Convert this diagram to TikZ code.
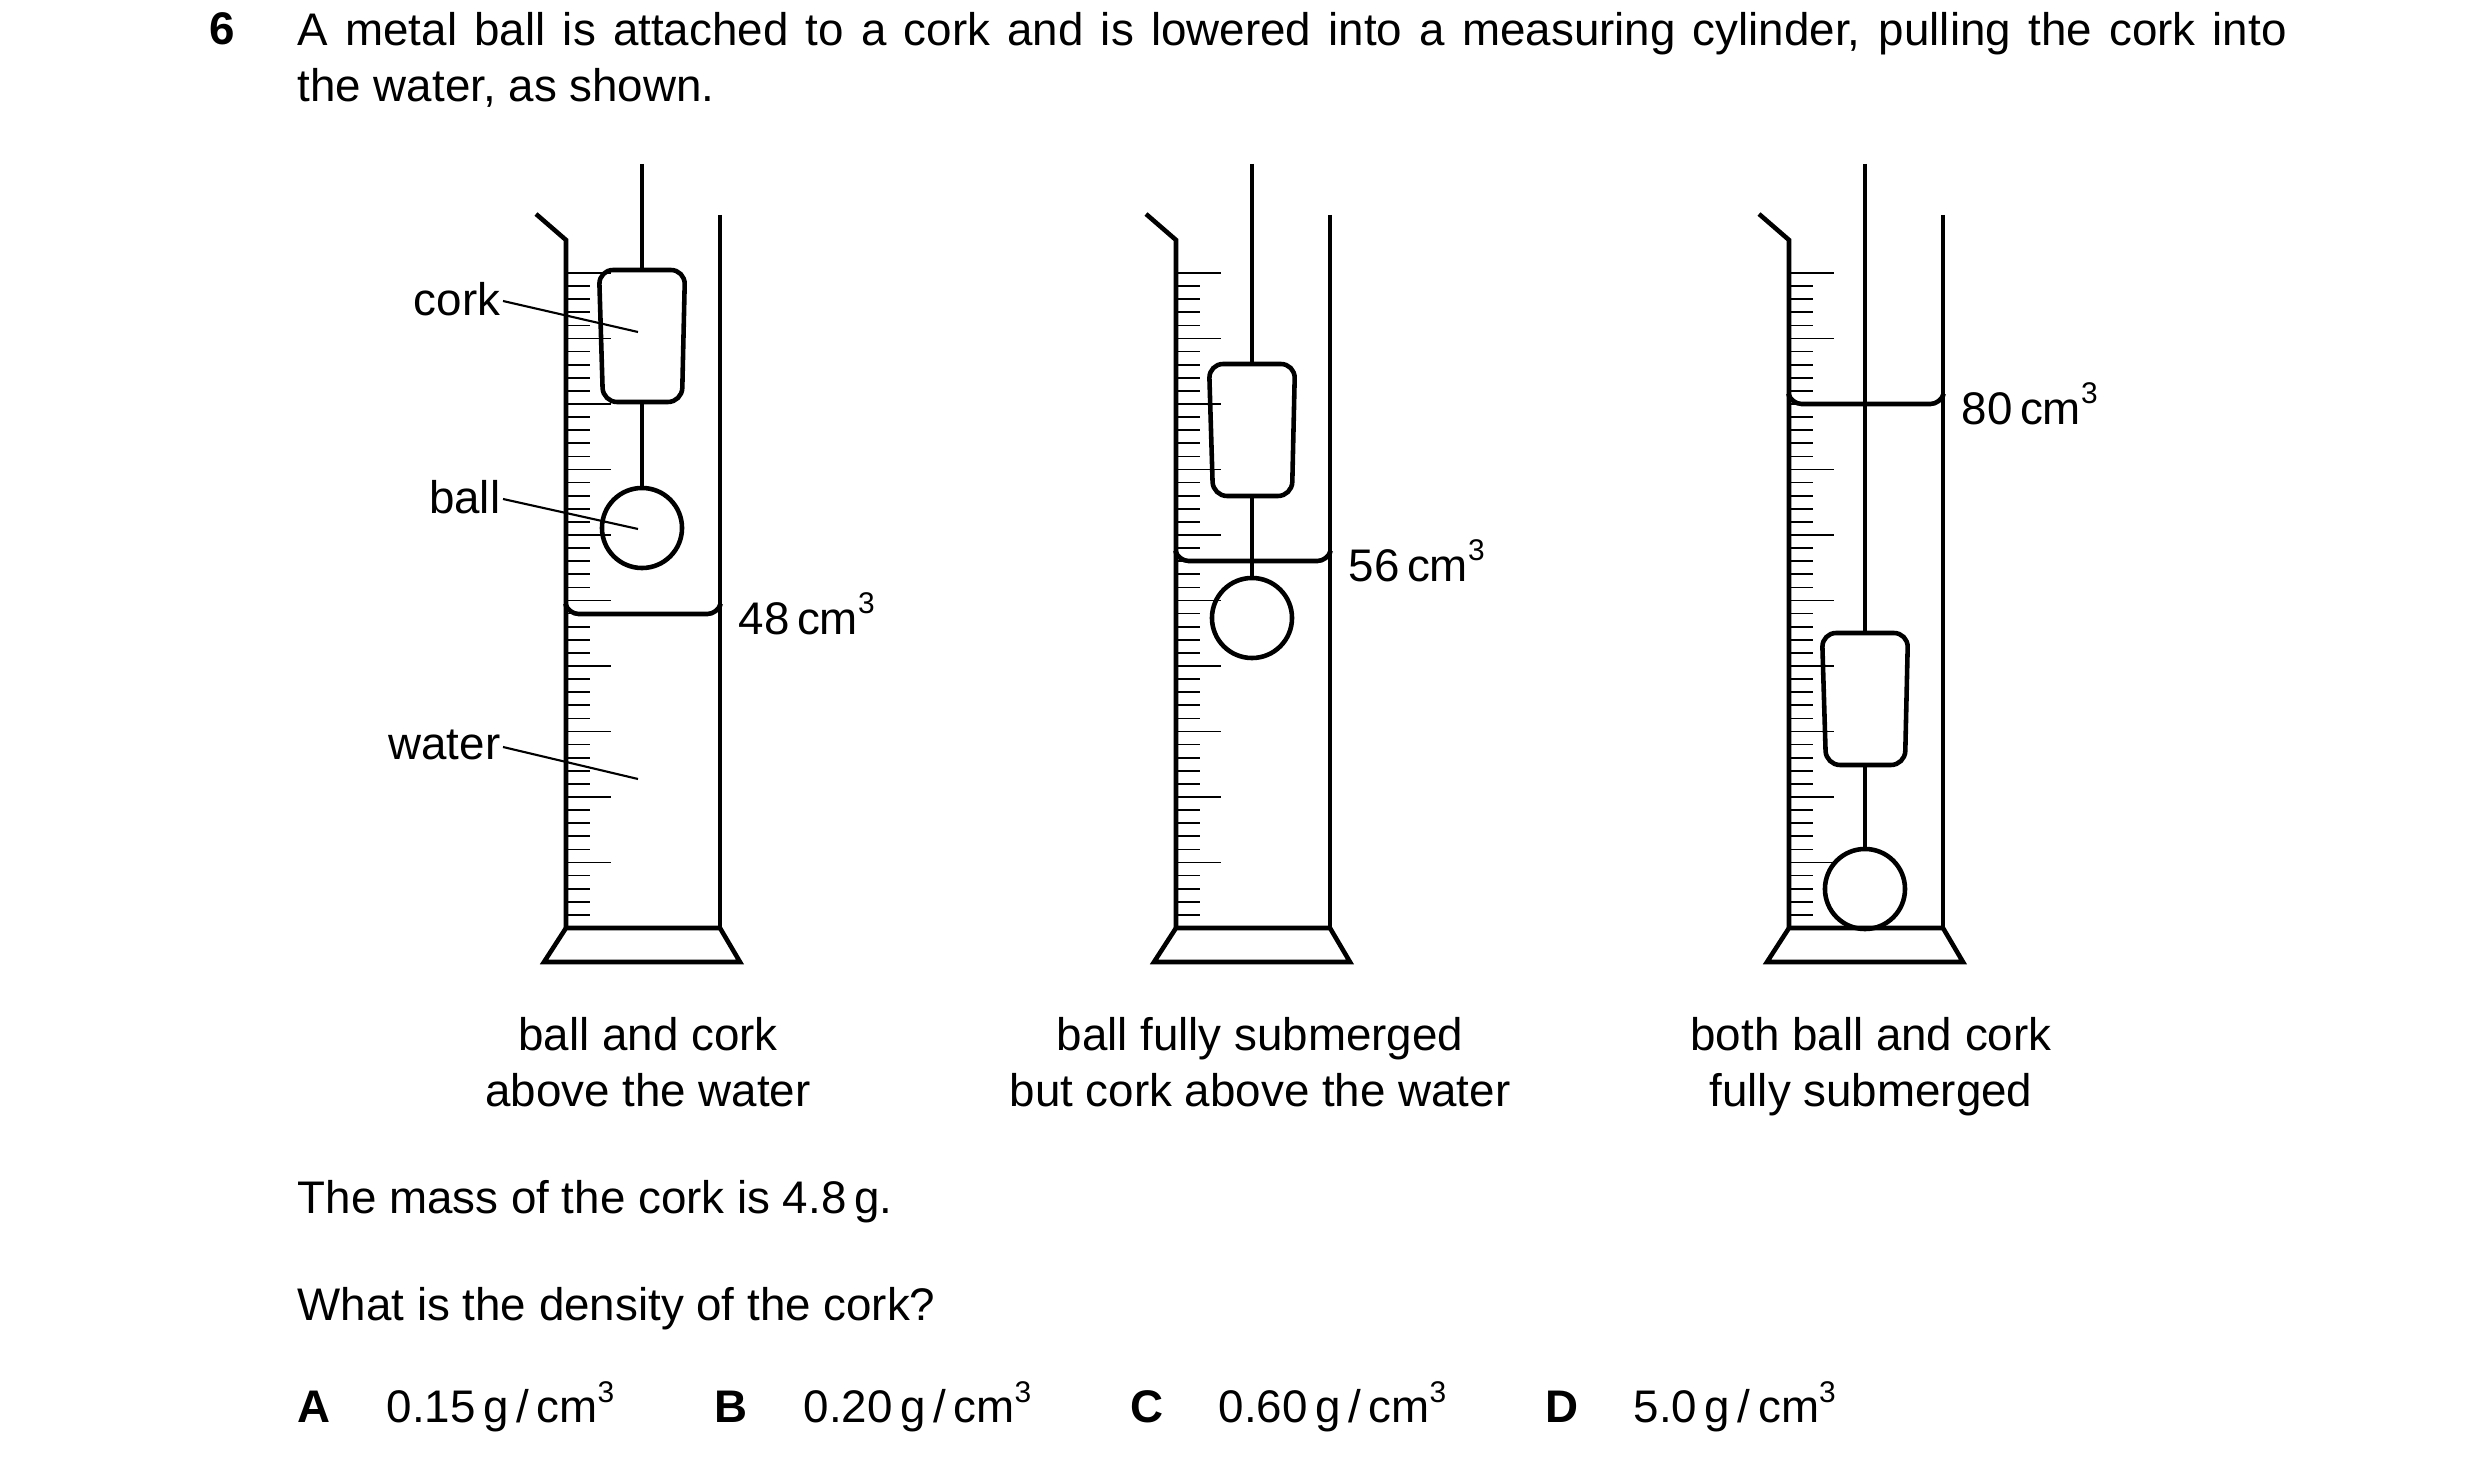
\documentclass[tikz,border=0pt]{standalone}
\usepackage{fontspec}
\setmainfont{Liberation Sans}
\newcommand{\cubed}{\raisebox{0.85ex}{\fontsize{8.5pt}{9pt}\selectfont 3}}
\begin{document}
\begin{tikzpicture}[x=0.01cm,y=-0.01cm,
  wall/.style={line width=1.3pt,line join=miter},
  tick/.style={line width=0.5pt},
  lead/.style={line width=0.6pt},
  obj/.style={line width=1.3pt},
  txt/.style={font=\fontsize{13pt}{15.8pt}\selectfont,inner sep=0pt},
  btxt/.style={font=\fontsize{13pt}{15.8pt}\selectfont\bfseries,inner sep=0pt},
  lbl/.style={txt,anchor=west},
  capt/.style={txt,align=center,anchor=north}]
\useasboundingbox (0,0) rectangle (2480,1464);
\fill[white] (0,0) rectangle (2480,1464);
% header
\node[btxt,anchor=north west] (qn) at (209,12) {6};
\node[txt,anchor=north west,text width=19.88cm,align=justify] (q) at (297,12) {A metal ball is attached to a cork and is lowered into a measuring cylinder, pulling the cork into\linebreak the water, as shown.};
% cylinders
\foreach \s/\n/\T/\L/\B/\v in {-3/1/270/614/528/48, 607/2/364/561/618/56, 1220/3/633/404/889/80}{
 \begin{scope}[xshift=\s*0.01cm]
  \draw[wall] (539,214)--(569,240)--(569,928);
  \draw[wall] (723,215)--(723,928);
  \draw[wall] (569,928)--(723,928)--(743,962)--(547,962)--cycle;
  \foreach \i in {0,...,49}{
    \pgfmathtruncatemacro\m{mod(\i,5)}
    \ifnum\m=0 \draw[tick] (569,273+13.1*\i)--++(45,0);
    \else \draw[tick] (569,273+13.1*\i)--++(24,0);\fi}
  \draw[obj,rounded corners=3pt] (569,\L-8)--(571,\L)--(721,\L)--(723,\L-8);
  \node[lbl] (vol\n) at (741,\L) {\v\,cm\cubed};
  \draw[obj,rounded corners=4pt] (602,\T)--(688,\T)--(685,\T+132)--(606,\T+132)--cycle;
  \coordinate (ct\n) at (645,\T); \coordinate (cb\n) at (645,\T+132);
  \coordinate (top\n) at (645,164);
  \node[obj,draw,circle,minimum size=0.8cm,inner sep=0pt] (ball\n) at (645,\B) {};
  \draw[obj] (top\n)--(ct\n);
  \draw[obj] (cb\n)--(ball\n.north);
 \end{scope}}
% left labels
\node[txt,anchor=east] (lcork) at (501,299) {cork};
\node[txt,anchor=east] (lball) at (501,497) {ball};
\node[txt,anchor=east] (lwater) at (501,745) {water};
\coordinate (pc) at (638,332); \coordinate (pb) at (638,529); \coordinate (pw) at (638,779);
\draw[lead] (lcork.east)++(2,2) -- (pc);
\draw[lead] (lball.east)++(2,2) -- (pb);
\draw[lead] (lwater.east)++(2,2) -- (pw);
% captions
\node[capt] (c1) at (648,1017) {ball and cork\\above the water};
\node[capt] (c2) at (1260,1017) {ball fully submerged\\but cork above the water};
\node[capt] (c3) at (1871,1017) {both ball and cork\\fully submerged};
% text
\node[lbl] (m) at (297,1202) {The mass of the cork is 4.8\,g.};
\node[lbl] (w) at (297,1309) {What is the density of the cork?};
\node[btxt,anchor=west] (oA) at (297,1407) {A};
\node[lbl] (vA) at (386,1407) {0.15\,g\,/\,cm\cubed};
\node[btxt,anchor=west] (oB) at (714,1407) {B};
\node[lbl] (vB) at (803,1407) {0.20\,g\,/\,cm\cubed};
\node[btxt,anchor=west] (oC) at (1130,1407) {C};
\node[lbl] (vC) at (1218,1407) {0.60\,g\,/\,cm\cubed};
\node[btxt,anchor=west] (oD) at (1545,1407) {D};
\node[lbl] (vD) at (1633,1407) {5.0\,g\,/\,cm\cubed};
\end{tikzpicture}
\end{document}
